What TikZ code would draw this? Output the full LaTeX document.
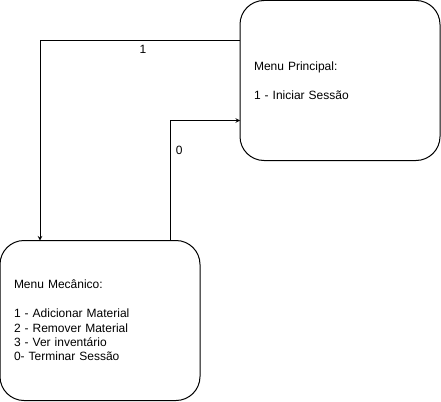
\documentclass[tikz,border=0pt]{standalone}
\usepackage{fontspec}
\setmainfont{Liberation Sans}
\usepackage{tikz}
\usetikzlibrary{arrows, positioning}

\begin{document}
\begin{tikzpicture}[x=1pt, y=1pt, font=\fontsize{12}{14.4}\selectfont]
    \tikzstyle{menubox} = [rectangle, rounded corners=24pt, minimum width=200pt, minimum height=160pt, text width=172pt, inner xsep=14pt, outer sep=0pt, align=left, draw=black, line width=1pt]
    \tikzstyle{arrow} = [line width=1pt, ->, >=stealth]

    \useasboundingbox (0,0) rectangle (441,-401);

    \node (principal) [menubox] at (340,-80.5) {Menu Principal:\\[14.4pt]1 - Iniciar Sessão};
    \node (mecanico) [menubox, below left=80pt and 40pt of principal] {Menu Mecânico:\\[14.4pt]1 - Adicionar Material\\2 - Remover Material\\3 - Ver inventário\\0- Terminar Sessão};

    \draw [arrow] ([yshift=-40pt]principal.north west) -| node[pos=0.25, below, xshift=3pt, yshift=-1pt] {1} ([xshift=40pt]mecanico.north west);
    \draw [arrow] ([xshift=-30pt]mecanico.north east) |- node[pos=0.375, right, xshift=2pt] {0} ([yshift=-40pt]principal.west);
\end{tikzpicture}
\end{document}
